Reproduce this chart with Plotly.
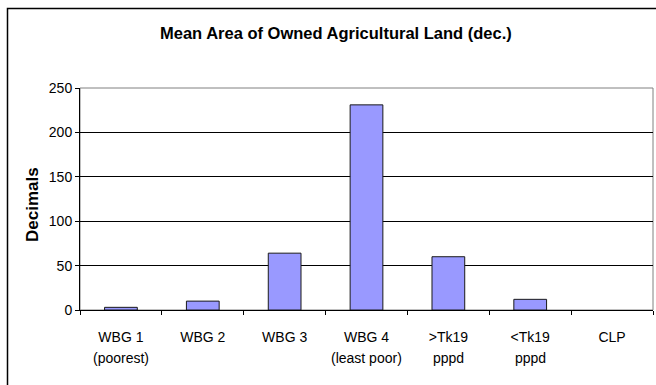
import plotly.graph_objects as go

# Mean area of owned agricultural land by group (decimals)
cat_keys = ["WBG 1", "WBG 2", "WBG 3", "WBG 4", ">Tk19", "<Tk19", "CLP"]
cat_line2 = ["(poorest)", "", "", "(least poor)", "pppd", "pppd", ""]
mean_area = [3, 10, 64, 231, 60, 12, 0]
y_ticks = [0, 50, 100, 150, 200, 250]

FONT = "Liberation Sans, Arial, sans-serif"

W, H = 656, 385
L, R, T, B = 80, 3, 88, 75
pw, ph = W - L - R, H - T - B


def px_x(x):
    return (x - L) / pw


def px_y(y):
    return (H - B - y) / ph


# empty groups get no outline
outline_w = [1 if v > 0 else 0 for v in mean_area]

fig = go.Figure(
    go.Bar(
        x=cat_keys,
        y=mean_area,
        width=0.4,
        marker=dict(color="#9999FF", line=dict(color="#1a1a1a", width=outline_w)),
        hoverinfo="x+y",
    )
)

annotations = [
    dict(text="<b>Mean Area of Owned Agricultural Land (dec.)</b>",
         xref="paper", yref="paper", x=px_x(336), y=px_y(33),
         xanchor="center", yanchor="middle", showarrow=False,
         font=dict(family=FONT, size=16.5, color="black")),
    dict(text="<b>Decimals</b>", textangle=-90,
         xref="paper", yref="paper", x=px_x(32), y=px_y(205),
         xanchor="center", yanchor="middle", showarrow=False,
         font=dict(family=FONT, size=17, color="black")),
]
for k, t2 in zip(cat_keys, cat_line2):
    if t2:
        annotations.append(dict(
            text=t2, xref="x", yref="paper", x=k, y=px_y(358),
            xanchor="center", yanchor="middle", showarrow=False,
            font=dict(family=FONT, size=14, color="black")))

fig.update_layout(
    width=W, height=H,
    margin=dict(l=L, r=R, t=T, b=B, pad=0),
    paper_bgcolor="white", plot_bgcolor="white",
    showlegend=False,
    bargap=0.6,
    font=dict(family=FONT, size=14, color="black"),
    annotations=annotations,
    shapes=[
        # plot-area frame
        dict(type="rect", xref="paper", yref="paper", x0=0, x1=1, y0=0, y1=1,
             line=dict(color="#808080", width=1), layer="below"),
        # chart-area frame
        dict(type="rect", xref="paper", yref="paper",
             x0=px_x(7.5), x1=px_x(700), y0=px_y(450), y1=px_y(8.5),
             line=dict(color="black", width=1.5), layer="below"),
    ],
)

fig.update_xaxes(
    type="category", categoryorder="array", categoryarray=cat_keys,
    tickson="boundaries", ticks="outside", ticklen=4, tickcolor="black",
    showline=True, linecolor="black", linewidth=1,
    showgrid=False, tickfont=dict(family=FONT, size=14, color="black"),
    ticklabelstandoff=14,
)
fig.update_yaxes(
    range=[0, 250], tickvals=y_ticks, ticks="outside", ticklen=4,
    tickcolor="black", showline=True, linecolor="black", linewidth=1,
    showgrid=True, gridcolor="black", gridwidth=1, zeroline=False,
    tickfont=dict(family=FONT, size=14, color="black"),
)

fig.write_html("out.html")
